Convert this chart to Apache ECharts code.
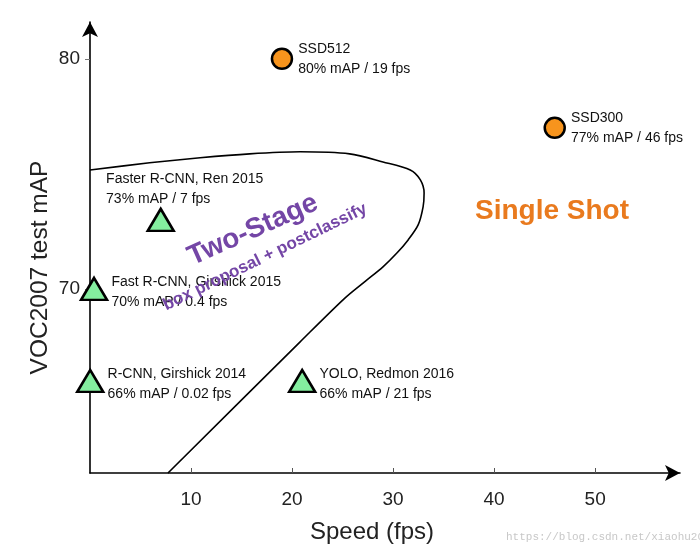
<!DOCTYPE html>
<html>
<head>
<meta charset="utf-8">
<script src="https://cdn.jsdelivr.net/npm/echarts@6/dist/echarts.min.js"></script>
<style>
  html, body { margin: 0; padding: 0; background: #fff; }
  #chart { width: 700px; height: 551px; }
</style>
</head>
<body>
<div id="chart"></div>
<script>
// detectors (triangles = green, circles = orange)
var triNames = ['R-CNN, Girshick 2014', 'Fast R-CNN, Girshick 2015', 'Faster R-CNN, Ren 2015', 'YOLO, Redmon 2016'];
var triFps = [0.02, 0.4, 7, 21];
var triMap = [66, 70, 73, 66];

var dotNames = ['SSD512', 'SSD300'];
var dotFps = [19, 46];
var dotMap = [80, 77];

// boundary between two-stage and single-shot regions, [fps, mAP]
var boundaryCurve = [
    [0, 75.17], [5.9, 75.48], [10.9, 75.7], [15.8, 75.87], [20.8, 75.96],
    [25.7, 75.87], [29.0, 75.52], [31.7, 75.17], [32.7, 74.74], [33.07, 74.17],
    [32.97, 73.57], [32.48, 72.78], [31.49, 72.13], [30.4, 71.57], [29.0, 70.96],
    [27.3, 70.35], [25.15, 69.57], [20.8, 67.7], [7.72, 62.0]
];

var xTicks = [10, 20, 30, 40, 50];
var yTicks = [70, 80];

var FONT = "'Liberation Sans', Arial, sans-serif";

// per-label nudges (Faster R-CNN label sits above its marker)
var labelOffsets = {
    'Faster R-CNN, Ren 2015': [-72, -31]
};

function buildData(names, fps, map) {
    var out = [];
    for (var i = 0; i < names.length; i++) {
        var item = {
            name: names[i],
            value: [fps[i], map[i]]
        };
        if (labelOffsets[names[i]]) {
            item.label = { offset: labelOffsets[names[i]] };
        }
        out.push(item);
    }
    return out;
}

function labelText(p) {
    return '{t|' + p.name + '}\n{t|' + p.value[1] + '% mAP / ' + p.value[0] + ' fps}';
}

function pointLabel(distance, offset) {
    return {
        show: true,
        position: 'right',
        distance: distance,
        offset: offset,
        formatter: labelText,
        rich: {
            t: { fontFamily: FONT, fontSize: 14, color: '#111', lineHeight: 20 }
        }
    };
}

var chart = echarts.init(document.getElementById('chart'), null, { renderer: 'canvas' });

chart.setOption({
    animation: false,
    backgroundColor: '#fff',
    grid: { left: 90, right: 20, top: 22, bottom: 78 },
    xAxis: {
        type: 'value',
        min: 0,
        max: 58.4,
        name: 'Speed (fps)',
        nameLocation: 'middle',
        nameGap: 47,
        nameTextStyle: { fontFamily: FONT, fontSize: 24, color: '#222', padding: [0, 26, 0, 0] },
        splitLine: { show: false },
        axisLine: { lineStyle: { color: '#000', width: 1.6 }, symbol: ['none', 'arrow'], symbolSize: [12, 15] },
        axisTick: { inside: true, length: 5, customValues: xTicks, lineStyle: { color: '#555', width: 1 } },
        axisLabel: { customValues: xTicks, margin: 17, fontFamily: FONT, fontSize: 19, color: '#222' }
    },
    yAxis: {
        type: 'value',
        min: 62,
        max: 81.6,
        name: 'VOC2007 test mAP',
        nameLocation: 'middle',
        nameGap: 37,
        nameMoveOverlap: false,
        nameRotate: 90,
        nameTextStyle: { fontFamily: FONT, fontSize: 24.5, color: '#222', padding: [0, 40, 0, 0] },
        splitLine: { show: false },
        axisLine: { lineStyle: { color: '#000', width: 1.6 }, symbol: ['none', 'arrow'], symbolSize: [12, 15] },
        axisTick: { inside: false, length: 5, customValues: yTicks, lineStyle: { color: '#777', width: 1 } },
        axisLabel: { customValues: yTicks, margin: 10, fontFamily: FONT, fontSize: 19, color: '#222' }
    },
    series: [
        {
            type: 'line',
            data: boundaryCurve,
            smooth: 0.3,
            symbol: 'none',
            silent: true,
            z: 1,
            lineStyle: { color: '#000', width: 1.6 }
        },
        {
            type: 'scatter',
            data: buildData(triNames, triFps, triMap),
            symbol: 'triangle',
            symbolSize: [26, 22],
            z: 3,
            itemStyle: { color: '#84ee9f', borderColor: '#000', borderWidth: 2.5, opacity: 1 },
            label: pointLabel(3, [0, 3])
        },
        {
            type: 'scatter',
            data: buildData(dotNames, dotFps, dotMap),
            symbol: 'circle',
            symbolSize: 20,
            z: 3,
            itemStyle: { color: '#f7941d', borderColor: '#000', borderWidth: 2.5, opacity: 1 },
            label: pointLabel(5, [0, 0])
        }
    ],
    graphic: [
        {
            type: 'text', x: 253, y: 230, rotation: 24 * Math.PI / 180, z: 10,
            style: { text: 'Two-Stage', fontFamily: FONT, fontSize: 28, fontWeight: 'bold', fill: '#7446a6', align: 'center', verticalAlign: 'middle' }
        },
        {
            type: 'text', x: 265, y: 257, rotation: 26 * Math.PI / 180, z: 10,
            style: { text: 'box proposal + postclassify', fontFamily: FONT, fontSize: 17, fontWeight: 'bold', fill: '#7446a6', align: 'center', verticalAlign: 'middle' }
        },
        {
            type: 'text', x: 552, y: 211, z: 10,
            style: { text: 'Single Shot', fontFamily: FONT, fontSize: 28, fontWeight: 'bold', fill: '#e97a1e', align: 'center', verticalAlign: 'middle' }
        },
        {
            type: 'text', x: 506, y: 537, z: 10,
            style: { text: 'https://blog.csdn.net/xiaohu2022', fontFamily: "'Liberation Mono', monospace", fontSize: 11, fill: '#c8c8c8', align: 'left', verticalAlign: 'middle' }
        }
    ]
});
</script>
</body>
</html>
